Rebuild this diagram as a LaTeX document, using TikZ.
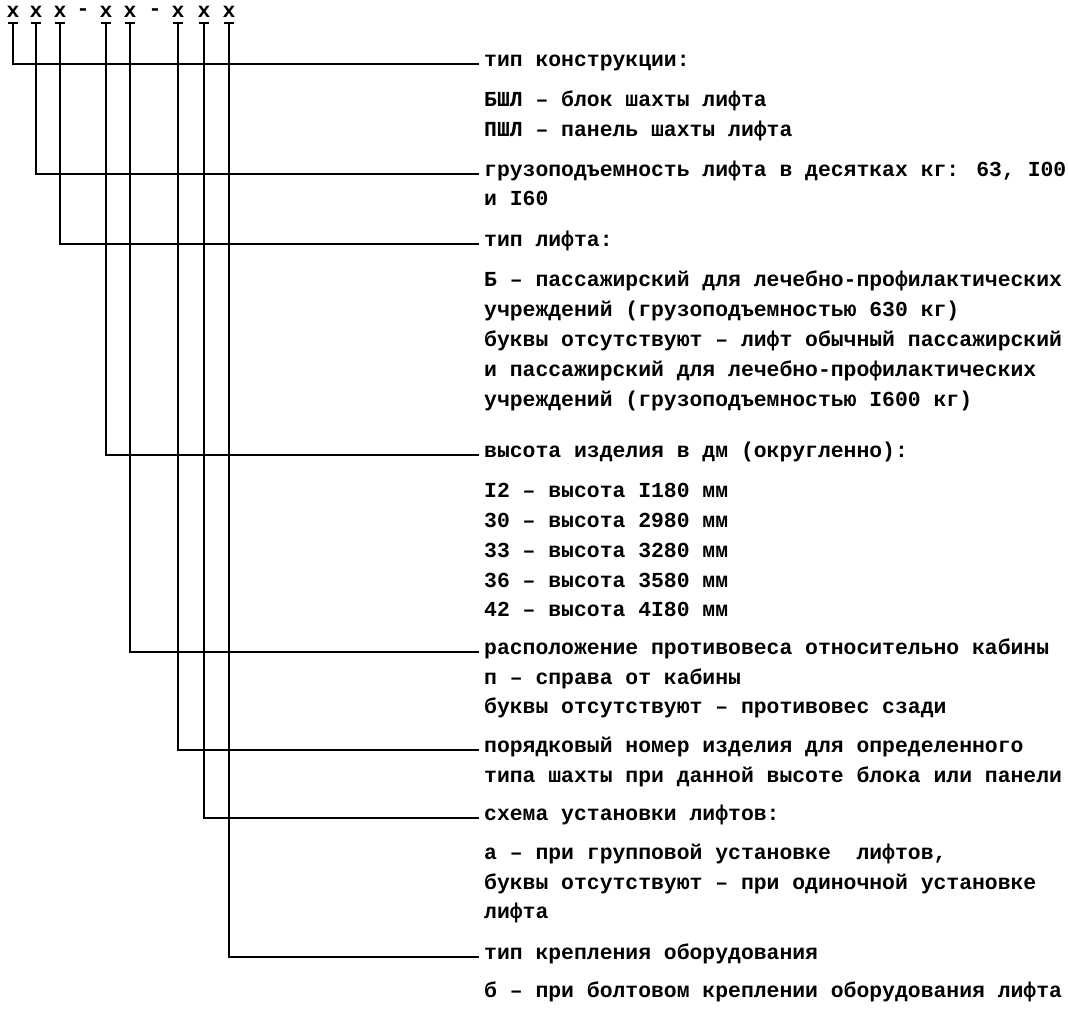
\documentclass[tikz,border=0pt]{standalone}
\usepackage{fontspec}
\setmainfont{Liberation Mono}
\usetikzlibrary{calc}
\begin{document}
\begin{tikzpicture}[x=1pt,y=-1pt,
  lbl/.style={anchor=west,inner xsep=5pt,inner ysep=0pt,text height=0.54em,text depth=0pt,font=\fontsize{21.4}{24}\selectfont\bfseries},
  hdr/.style={inner sep=0pt,font=\fontsize{21.4}{24}\selectfont\bfseries},
  conn/.style={line width=2.6pt,line join=miter},
  tickbar/.style={line width=2.8pt}]
\useasboundingbox (0,0) rectangle (1068,1014);
% header
\node[hdr] (h1) at (13,12) {x};
\node[hdr] (h2) at (36,12) {x};
\node[hdr] (h3) at (60,12) {x};
\node[hdr] (d1) at (83,12) {-};
\node[hdr] (h4) at (106,12) {x};
\node[hdr] (h5) at (130,12) {x};
\node[hdr] (d2) at (155,12) {-};
\node[hdr] (h6) at (178,12) {x};
\node[hdr] (h7) at (204,12) {x};
\node[hdr] (h8) at (229,12) {x};
\foreach \i/\xx in {1/13,2/36,3/60,4/106,5/130,6/178,7/204,8/229}{
  \coordinate (k\i) at (\xx,23);
  \draw[tickbar] ($(k\i)+(-5,0)$) -- ($(k\i)+(5,0)$);
}
% labels
\node[lbl] (t1)  at (479,64)  {тип конструкции:};
\node[lbl] (t2)  at (479,104) {БШЛ – блок шахты лифта};
\node[lbl] (t3)  at (479,134) {ПШЛ – панель шахты лифта};
\node[lbl] (t4)  at (479,174) {грузоподъемность лифта в десятках кг: 63, I00};
\node[lbl] (t5)  at (479,203) {и I60};
\node[lbl] (t6)  at (479,244) {тип лифта:};
\node[lbl] (t7)  at (479,284) {Б – пассажирский для лечебно-профилактических};
\node[lbl] (t8)  at (479,314) {учреждений (грузоподъемностью 630 кг)};
\node[lbl] (t9)  at (479,344) {буквы отсутствуют – лифт обычный пассажирский};
\node[lbl] (t10) at (479,374) {и пассажирский для лечебно-профилактических};
\node[lbl] (t11) at (479,404) {учреждений (грузоподъемностью I600 кг)};
\node[lbl] (t12) at (479,455) {высота изделия в дм (округленно):};
\node[lbl] (t13) at (479,495) {I2 – высота I180 мм};
\node[lbl] (t14) at (479,525) {30 – высота 2980 мм};
\node[lbl] (t15) at (479,555) {33 – высота 3280 мм};
\node[lbl] (t16) at (479,585) {36 – высота 3580 мм};
\node[lbl] (t17) at (479,614) {42 – высота 4I80 мм};
\node[lbl] (t18) at (479,652) {расположение противовеса относительно кабины};
\node[lbl] (t19) at (479,682) {п – справа от кабины};
\node[lbl] (t20) at (479,711) {буквы отсутствуют – противовес сзади};
\node[lbl] (t21) at (479,750) {порядковый номер изделия для определенного};
\node[lbl] (t22) at (479,780) {типа шахты при данной высоте блока или панели};
\node[lbl] (t23) at (479,818) {схема установки лифтов:};
\node[lbl] (t24) at (479,857) {а – при групповой установке\ \ лифтов,};
\node[lbl] (t25) at (479,887) {буквы отсутствуют – при одиночной установке};
\node[lbl] (t26) at (479,916) {лифта};
\node[lbl] (t27) at (479,957) {тип крепления оборудования};
\node[lbl] (t28) at (479,995) {б – при болтовом креплении оборудования лифта};
% connectors
\draw[conn] (k1) |- (t1.west);
\draw[conn] (k2) |- (t4.west);
\draw[conn] (k3) |- (t6.west);
\draw[conn] (k4) |- (t12.west);
\draw[conn] (k5) |- (t18.west);
\draw[conn] (k6) |- (t21.west);
\draw[conn] (k7) |- (t23.west);
\draw[conn] (k8) |- (t27.west);
\end{tikzpicture}
\end{document}
